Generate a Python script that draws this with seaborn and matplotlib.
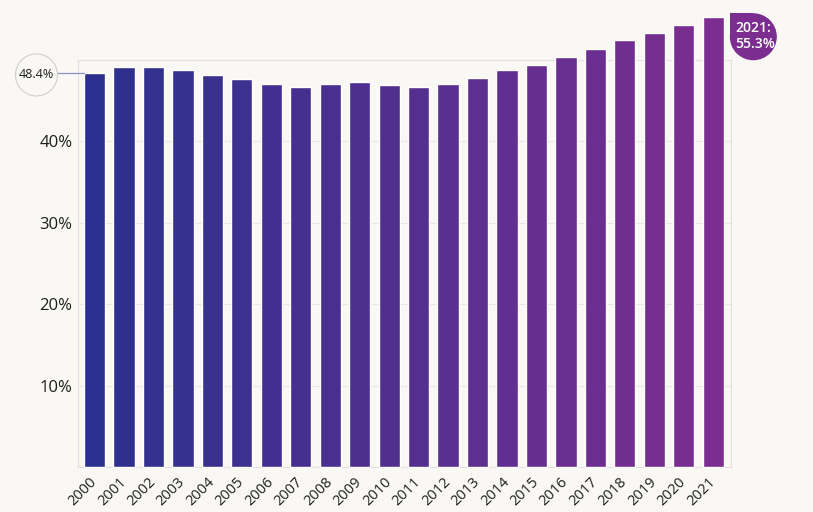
import matplotlib
matplotlib.use("Agg")
import matplotlib.pyplot as plt
import matplotlib.transforms as mtransforms
from matplotlib.patches import Circle, Rectangle
import seaborn as sns
import numpy as np

# Share of the value per year
years = [str(y) for y in range(2000, 2022)]
values = [48.4, 49.1, 49.1, 48.8, 48.1, 47.6, 47.0, 46.7, 47.0, 47.3, 46.9,
          46.7, 47.1, 47.8, 48.7, 49.4, 50.4, 51.4, 52.5, 53.3, 54.3, 55.3]
ytick_values = [0, 10, 20, 30, 40, 50]
ytick_labels = ["", "10%", "20%", "30%", "40%", ""]

bg = "#f9f8f5"
start_col = np.array([0x2b, 0x30, 0x8e]) / 255
end_col = np.array([0x7b, 0x2e, 0x90]) / 255
t = np.linspace(0, 1, len(years))
palette = [tuple(start_col + (end_col - start_col) * k) for k in t]

sns.set_style("white")
plt.rcParams["font.family"] = ["Open Sans", "DejaVu Sans"]

fig = plt.figure(figsize=(8.13, 5.12), dpi=100, facecolor=bg)
ax = fig.add_axes([0.096, 0.088, 0.803, 0.795])
ax.set_facecolor(bg)

sns.barplot(x=years, y=values, hue=years, palette=palette, legend=False,
            width=0.72, saturation=1, ax=ax)
for p in ax.patches:
    p.set_clip_on(False)
    p.set_zorder(3)

ax.set_ylim(0, 50)
ax.set_xlim(-0.56, 21.6)
ax.set_yticks(ytick_values)
ax.set_yticklabels(ytick_labels, fontsize=12, color="#1e1e1e")
ax.yaxis.grid(True, color="#e8e6e4", lw=0.8)
ax.set_axisbelow(True)
ax.tick_params(axis="y", length=0, pad=4)
for side in ["left", "right", "top", "bottom"]:
    ax.spines[side].set_color("#e6e0e6")
    ax.spines[side].set_linewidth(0.8)
    ax.spines[side].set_zorder(1)

ax.set_xticks(range(len(years)))
ax.set_xticklabels(years, rotation=45, ha="right", va="center",
                   rotation_mode="anchor", fontsize=10.5, color="#1e1e1e")
shift = mtransforms.ScaledTranslation(0.06, 0.0, fig.dpi_scale_trans)
for lab in ax.get_xticklabels():
    lab.set_transform(lab.get_transform() + shift)
ax.tick_params(axis="x", length=0, pad=9)
ax.set_xlabel("")
ax.set_ylabel("")

# first-year callout: outlined circle joined to the first bar
half_w = 0.36
first_anchor = fig.dpi_scale_trans + mtransforms.ScaledTranslation(
    -half_w, values[0], ax.transData)
ax.add_patch(Circle((-0.475, -0.02), 0.21, transform=first_anchor,
                    fc=bg, ec="#cfcfcf", lw=0.8, clip_on=False, zorder=5))
ax.add_line(plt.Line2D([-0.265, 0.0], [0, 0], transform=first_anchor,
                       color="#8d90c4", lw=0.9, clip_on=False, zorder=4))
ax.text(-0.475, -0.02, f"{values[0]}%", transform=first_anchor, ha="center",
        va="center", fontsize=9, color="#1e1e1e", zorder=6)

# last-year callout: filled bubble beside the last bar
last_anchor = fig.dpi_scale_trans + mtransforms.ScaledTranslation(
    len(years) - 1 + half_w, values[-1], ax.transData)
bubble_col = palette[-1]
r = 0.235
ax.add_patch(Circle((0.295, -0.2), r, transform=last_anchor,
                    fc=bubble_col, ec="none", clip_on=False, zorder=5))
ax.add_patch(Rectangle((0.295 - r, -0.2), r, r, transform=last_anchor,
                       fc=bubble_col, ec="none", clip_on=False, zorder=5))
ax.text(0.115, -0.195, f"{years[-1]}:\n{values[-1]}%", transform=last_anchor,
        ha="left", va="center", fontsize=10, color="white",
        fontweight="semibold", linespacing=1.15, zorder=6)

fig.savefig("out.png", dpi=100, facecolor=bg)
